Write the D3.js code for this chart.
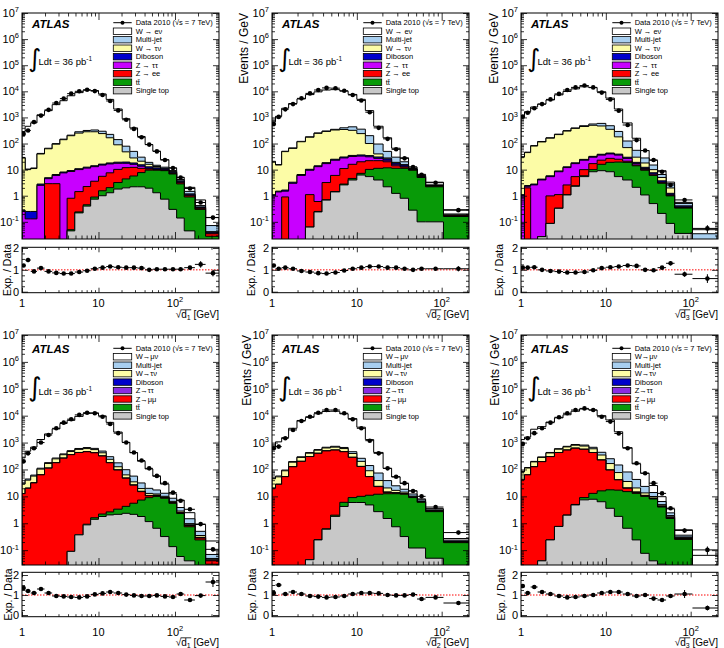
<!DOCTYPE html>
<html>
<head>
<meta charset="utf-8">
<script src="https://cdn.jsdelivr.net/npm/d3@7/dist/d3.min.js"></script>
<style>
html,body{margin:0;padding:0;background:#fff;}
svg{display:block;font-family:"Liberation Sans",Arial,Helvetica,sans-serif;}
</style>
</head>
<body>
<svg id="chart" width="724" height="648"></svg>
<script>
// ================= DATA =================
// bin edges of sqrt(d_k) [GeV]
const edgesD1  = [1, 1.1, 1.3, 1.57, 1.97, 2.48, 3.13, 3.89, 4.9, 6.3, 7.9, 10, 12.6, 15.8, 20.4, 25.7, 32.4, 40.7, 51.3, 64.6, 83.2, 105, 132, 182, 251, 376];
const edgesD23 = [1, 1.1, 1.3, 1.57, 1.97, 2.48, 3.13, 3.89, 4.9, 6.3, 7.9, 10, 12.6, 15.8, 20.4, 25.7, 32.4, 40.7, 51.3, 64.6, 105, 210];

const yTickLabels = [0.1, 1, 10, 100, 1e3, 1e4, 1e5, 1e6, 1e7];
const xTickLabels = [1, 10, 100];
const ratioTickLabels = [0, 1, 2];

// ---- W -> e nu, sqrt(d1)
const e1_data = [234, 316, 661, 1175, 1950, 3550, 5250, 8130, 10000, 11500, 10200, 7240, 4270, 1860, 813, 363, 174, 91, 50, 23.4, 11.5, 5.0, 1.9, 0.55, 0.145];
const e1_ratio = [1.2, 1.45, 0.93, 1.08, 0.93, 0.86, 0.83, 0.83, 0.9, 0.96, 1.05, 1.1, 1.15, 1.12, 1.1, 1.1, 1.08, 1.0, 1.03, 1.03, 1.03, 1.03, 1.1, 1.25, 0.85];
const e1_ratioErr = [0.06, 0.1, 0.04, 0.03, 0.02, 0.02, 0.02, 0.01, 0.01, 0.01, 0.01, 0.01, 0.02, 0.02, 0.03, 0.03, 0.04, 0.04, 0.05, 0.06, 0.06, 0.07, 0.08, 0.15, 0.15];
const e1_Wlnu = [253, 447, 605, 1217, 1754, 2991, 4218, 6551, 8628, 10644, 10390, 7645, 4676, 1949, 812, 348, 156, 72, 36.3, 11.6, 2.5, 0.9, 0.63, 0.27, 0.075];
const e1_Multijet = [1.4, 0.5, 0.55, 2, 3, 4.7, 7, 10, 31, 34, 48, 55, 58, 52, 31, 22, 9, 3, 1.5, 1.2, 0.8, 0.5, 0.3, 0.05, 0.03];
const e1_Wtaunu = [27.7, 9.75, 10.75, 37, 58, 88, 132, 190, 240, 270, 268, 224, 148, 70, 28.5, 10, 5.7, 3.2, 1.5, 0.5, 0.4, 0.1, 0.02, 0.01, 0.002];
const e1_Diboson = [0.03, 0.12, 0.12, 0.3, 0.4, 0.5, 0.6, 0.7, 0.8, 1.0, 1.1, 1.3, 1.5, 1.8, 2.0, 2.0, 1.8, 1.5, 1.2, 0.9, 0.6, 0.3, 0.1, 0.02, 0.003];
const e1_Ztautau = [0.25, 0.13, 0.13, 2.5, 1.6, 3.1, 7.5, 7.7, 8.6, 9.2, 9.4, 9.4, 9.0, 7.3, 5.6, 3.8, 2.3, 0.75, 0.5, 0.26, 0.2, 0.16, 0.05, 0.01, 0.002];
const e1_Zll = [0, 0, 0, 0, 2.9, 2.9, 0, 0.75, 1.2, 1.8, 2.7, 4.0, 5.5, 7.0, 7.5, 6.5, 3.5, 1.0, 0.5, 0.4, 0.4, 0.3, 0.1, 0.03, 0.007];
const e1_ttbar = [0, 0, 0, 0, 0, 0, 0, 0.005, 0.02, 0.05, 0.15, 0.55, 0.74, 1.4, 2.4, 3.5, 5.5, 7.6, 8.2, 8.4, 6.5, 2.7, 0.85, 0.3, 0.028];
const e1_SingleTop = [0, 0, 0, 0, 0, 0, 0, 0.045, 0.22, 0.4, 0.74, 1.0, 1.3, 1.8, 2.0, 2.2, 2.2, 1.95, 1.3, 0.74, 0.3, 0.14, 0.045, 0, 0];

// ---- W -> e nu, sqrt(d2)
const e2_data = [562, 1047, 2040, 3240, 5370, 8320, 11220, 13490, 13180, 10470, 7240, 4470, 1585, 398, 151, 60, 27, 12.6, 6.3, 3.16, 0.28];
const e2_ratio = [1.2, 1.05, 1.1, 1.05, 0.95, 0.9, 0.85, 0.83, 0.88, 0.97, 1.05, 1.1, 1.15, 1.15, 1.1, 1.1, 1.05, 1.0, 1.05, 1.05, 1.05];
const e2_ratioErr = [0.04, 0.03, 0.02, 0.02, 0.01, 0.01, 0.01, 0.01, 0.01, 0.01, 0.01, 0.02, 0.02, 0.03, 0.03, 0.04, 0.05, 0.05, 0.06, 0.07, 0.12];
const e2_Wlnu = [653, 1084, 2193, 3332, 4979, 7309, 9285, 10898, 11250, 9760, 7164, 4565, 1623, 363, 116, 36, 8.4, 1.6, 0.7, 0.7, 0.09];
const e2_Multijet = [0.8, 0.6, 1.6, 3, 4, 7, 10, 12, 20, 55, 116, 115, 100, 55.5, 22, 11, 4.5, 0.4, 0.3, 0.1, 0.015];
const e2_Wtaunu = [18.9, 13.5, 47.3, 61.7, 110.5, 163.7, 231, 271.5, 305, 314.5, 285, 203.5, 65.5, 9.5, 2, 1, 0.5, 0.2, 0.1, 0.05, 0.005];
const e2_Diboson = [0.1, 0.1, 0.15, 0.3, 0.5, 0.8, 1.0, 1.5, 2, 2.5, 3, 3.5, 3.5, 3.5, 3, 2, 1.5, 0.4, 0.2, 0.1, 0.005];
const e2_Ztautau = [1.0, 1.4, 0.6, 3, 6, 8.4, 12.4, 13.8, 17, 17, 16, 13, 9, 5, 3, 2, 1, 0.2, 0.1, 0.05, 0.005];
const e2_Zll = [0, 0, 0.9, 0, 0, 1.04, 0.35, 2.5, 4.55, 8.2, 11.4, 12.8, 11.8, 10.8, 8.3, 2.8, 1.3, 0.3, 0.2, 0.1, 0.01];
const e2_ttbar = [0, 0, 0, 0, 0, 0, 0.01, 0.02, 0.05, 0.2, 0.6, 1.0, 4.8, 7.2, 9.5, 10, 10.4, 9.2, 4.9, 2.1, 0.16];
const e2_SingleTop = [0, 0, 0, 0, 0, 0.063, 0.24, 0.68, 1.4, 2.6, 4.0, 6.2, 5.4, 4.0, 2.2, 1.23, 0.8, 0.28, 0.1, 0.1, 0];

// ---- W -> e nu, sqrt(d3)
const e3_data = [1072, 1514, 2239, 3236, 4898, 7943, 11220, 14125, 16600, 14125, 8913, 4898, 1820, 513, 135, 53.7, 23.4, 8.3, 2.57, 0.69, 0.056];
const e3_ratio = [1.1, 1.1, 1.12, 1.0, 0.95, 0.92, 0.88, 0.88, 0.9, 0.98, 1.08, 1.12, 1.15, 1.2, 1.18, 1.0, 0.98, 1.1, 1.3, 0.8, 0.6];
const e3_ratioErr = [0.03, 0.03, 0.02, 0.02, 0.01, 0.01, 0.01, 0.01, 0.01, 0.01, 0.01, 0.02, 0.02, 0.03, 0.04, 0.05, 0.06, 0.07, 0.1, 0.12, 0.2];
const e3_Wlnu = [1148, 1618, 2425, 3116, 4487, 7079, 9562, 12035, 14460, 13280, 9036, 5006, 1803, 490, 104, 25.7, 7.9, 2.6, 0.44, 0.05, 0.015];
const e3_Multijet = [1.2, 1.8, 3.2, 4.6, 6.4, 8.8, 12, 15, 30, 60, 120, 130, 110, 55, 25, 10, 5, 1.5, 0.9, 0.1, 0.015];
const e3_Wtaunu = [28.9, 42.5, 77.2, 110.7, 154.2, 211, 287, 362, 425, 468, 431, 307, 141, 40, 11, 5.7, 2.4, 1.3, 0.75, 0.01, 0.005];
const e3_Diboson = [0.1, 0.15, 0.2, 0.3, 0.4, 0.6, 0.8, 1.2, 1.7, 2.2, 2.8, 3.2, 3.2, 2.8, 2.0, 1.3, 0.8, 0.4, 0.15, 0.04, 0.002];
const e3_Ztautau = [1.0, 0.3, 2.6, 4.0, 4.4, 7.2, 9.4, 11.6, 13, 13, 13, 13, 11, 6, 2, 1, 0.5, 0.2, 0.05, 0.01, 0.001];
const e3_Zll = [0, 2.0, 0, 0, 0.9, 0.77, 1.5, 3.0, 4.2, 7, 7, 8, 5.5, 2, 1, 0.5, 0.3, 0.1, 0.05, 0.01, 0.002];
const e3_ttbar = [0, 0, 0, 0, 0, 0.005, 0.02, 0.1, 0.4, 1.7, 6.9, 10.7, 14.1, 15, 11.9, 8.4, 5.5, 2.8, 0.9, 0.3, 0.01];
const e3_SingleTop = [0, 0, 0, 0.027, 0.087, 0.33, 1.07, 2.3, 5.4, 8.3, 9.1, 8.3, 5.4, 4.0, 2.1, 1.07, 0.5, 0.21, 0.087, 0.036, 0];

// ---- W -> mu nu, sqrt(d1)
const m1_data = [200, 398, 617, 1000, 1905, 3390, 5500, 7410, 10700, 12900, 12300, 9120, 4900, 2240, 1000, 427, 214, 110, 57.5, 30.9, 13.8, 6.9, 3.3, 0.93, 0.107];
const m1_ratio = [1.35, 1.2, 1.1, 1.3, 1.1, 0.95, 0.93, 0.9, 0.88, 0.93, 1.03, 1.08, 1.15, 1.1, 1.02, 0.98, 0.95, 0.95, 0.98, 0.93, 0.9, 1.05, 0.75, 0.97, 1.65];
const m1_ratioErr = [0.06, 0.05, 0.04, 0.03, 0.02, 0.02, 0.01, 0.01, 0.01, 0.01, 0.01, 0.01, 0.02, 0.02, 0.03, 0.03, 0.04, 0.04, 0.05, 0.05, 0.06, 0.07, 0.06, 0.08, 0.25];
const m1_Wlnu = [238, 434, 617, 1189, 1917, 2954, 4737, 6170, 8813, 11346, 12061, 9366, 5334, 2285, 922, 361, 171, 84.6, 39, 15.6, 3.9, 3.4, 1.0, 0.4, 0.15];
const m1_Multijet = [3, 4, 5, 8, 12, 18, 25, 35, 45, 55, 60, 65, 60, 50, 35, 22, 12, 7, 5, 3, 2, 1, 0.5, 0.15, 0.02];
const m1_Wtaunu = [16, 20, 25, 40, 55, 70, 90, 110, 130, 140, 130, 100, 60, 30, 15, 8, 4, 2, 1.2, 0.8, 0.5, 0.3, 0.1, 0.05, 0.005];
const m1_Diboson = [0.02, 0.02, 0.03, 0.05, 0.08, 0.1, 0.15, 0.2, 0.25, 0.3, 0.35, 0.4, 0.4, 0.4, 0.35, 0.3, 0.25, 0.2, 0.15, 0.12, 0.1, 0.05, 0.02, 0.01, 0.002];
const m1_Ztautau = [0.08, 0.1, 0.1, 0.15, 0.15, 0.2, 0.25, 0.3, 0.35, 0.4, 0.45, 0.4, 0.4, 0.4, 0.35, 0.3, 0.25, 0.2, 0.15, 0.1, 0.1, 0.05, 0.03, 0.01, 0.002];
const m1_Zll = [12.6, 20, 31.6, 63, 112, 178, 263, 355, 427, 456, 415, 314, 175, 92, 43, 20.5, 7.7, 1.5, 0.8, 0.5, 0.3, 0.15, 0.08, 0.04, 0.01];
const m1_ttbar = [0, 0, 0, 0, 0, 0, 0, 0, 0, 0.05, 0.2, 0.42, 0.6, 1.2, 1.9, 3.4, 5.5, 7.8, 9.3, 8.2, 5.37, 2.24, 0.7, 0.24, 0.03];
const m1_SingleTop = [0, 0, 0, 0, 0, 0, 0, 0.09, 0.37, 0.87, 1.4, 1.78, 2.04, 2.14, 2.34, 2.14, 1.78, 1.15, 0.65, 0.32, 0.135, 0.058, 0.04, 0, 0];

// ---- W -> mu nu, sqrt(d2)
const m2_data = [617, 708, 1445, 2951, 6310, 9120, 12880, 16220, 16220, 12300, 7410, 3390, 1175, 398, 110, 53.7, 30.9, 15.8, 10, 4, 0.45];
const m2_ratio = [1.1, 1.5, 1.05, 1.15, 1.05, 0.95, 0.92, 0.88, 0.9, 0.95, 1.05, 1.1, 1.1, 1.08, 1.0, 0.98, 0.98, 1.02, 0.8, 0.88, 0.6];
const m2_ratioErr = [0.04, 0.06, 0.03, 0.02, 0.01, 0.01, 0.01, 0.01, 0.01, 0.01, 0.01, 0.02, 0.02, 0.03, 0.04, 0.05, 0.05, 0.06, 0.06, 0.07, 0.1];
const m2_Wlnu = [631, 1005, 1422, 3198, 6331, 8239, 11300, 13600, 13874, 11032, 7322, 3469, 1153, 356, 71.5, 27.9, 11.9, 3.9, 0.6, 0.35, 0.035];
const m2_Multijet = [3, 4, 6, 10, 15, 22, 30, 40, 50, 60, 65, 60, 50, 35, 18, 8, 4, 2, 0.8, 0.2, 0.02];
const m2_Wtaunu = [25, 25, 35, 60, 80, 100, 120, 140, 150, 140, 110, 70, 35, 15, 6, 3, 1.5, 0.7, 0.3, 0.1, 0.01];
const m2_Diboson = [0.02, 0.03, 0.05, 0.08, 0.1, 0.15, 0.2, 0.25, 0.3, 0.35, 0.4, 0.4, 0.4, 0.35, 0.3, 0.25, 0.2, 0.12, 0.08, 0.03, 0.003];
const m2_Ztautau = [0.1, 0.1, 0.15, 0.2, 0.25, 0.3, 0.35, 0.4, 0.45, 0.45, 0.45, 0.4, 0.35, 0.3, 0.25, 0.2, 0.15, 0.1, 0.05, 0.02, 0.002];
const m2_Zll = [20, 28, 54, 126, 200, 302, 398, 489, 523, 451, 273, 119, 43, 11, 1.5, 0.7, 0.5, 0.3, 0.2, 0.1, 0.01];
const m2_ttbar = [0, 0, 0, 0, 0, 0, 0.005, 0.02, 0.2, 1.8, 3.1, 4.1, 6.2, 9.3, 11, 11.8, 11.7, 8.9, 5.9, 2.65, 0.19];
const m2_SingleTop = [0, 0, 0, 0, 0, 0.044, 0.24, 0.6, 1.8, 4.2, 5.9, 5.9, 4.8, 2.7, 1.5, 0.74, 0.32, 0.12, 0.12, 0.05, 0];

// ---- W -> mu nu, sqrt(d3)
const m3_data = [891, 1445, 2239, 3388, 5495, 8710, 12300, 16220, 18620, 16220, 9120, 6026, 2188, 617, 170, 72.4, 30.9, 12.9, 3.63, 0.54, 0.102];
const m3_ratio = [1.45, 1.1, 1.4, 1.15, 1.05, 0.95, 0.88, 0.9, 0.95, 1.0, 1.1, 1.15, 1.15, 1.05, 0.95, 1.0, 0.82, 0.75, 0.95, 1.05, 0.35];
const m3_ratioErr = [0.05, 0.04, 0.04, 0.02, 0.02, 0.01, 0.01, 0.01, 0.01, 0.01, 0.01, 0.02, 0.02, 0.03, 0.04, 0.04, 0.05, 0.06, 0.1, 0.2, 0.12];
const m3_Wlnu = [1207, 1472, 2936, 3604, 5341, 7683, 10098, 13752, 16882, 15552, 9595, 6679, 2369, 567, 119, 48.9, 11.4, 3.3, 1.0, 0.21, 0.045];
const m3_Multijet = [4, 5, 8, 12, 18, 25, 35, 50, 65, 80, 90, 85, 70, 45, 22, 10, 4, 1.5, 0.5, 0.05, 0.005];
const m3_Wtaunu = [40, 50, 65, 85, 110, 140, 165, 180, 180, 160, 120, 70, 35, 15, 6, 2.5, 1.2, 0.5, 0.2, 0.02, 0.003];
const m3_Diboson = [0.02, 0.03, 0.05, 0.08, 0.1, 0.15, 0.2, 0.25, 0.3, 0.35, 0.4, 0.4, 0.4, 0.35, 0.3, 0.25, 0.2, 0.12, 0.08, 0.01, 0.002];
const m3_Ztautau = [0.1, 0.1, 0.15, 0.2, 0.25, 0.3, 0.35, 0.4, 0.45, 0.45, 0.45, 0.4, 0.35, 0.3, 0.25, 0.2, 0.15, 0.1, 0.05, 0.01, 0.002];
const m3_Zll = [41, 63, 126, 195, 300, 426, 523, 612, 553, 414, 208, 77.5, 24, 5, 1.1, 0.5, 0.3, 0.2, 0.1, 0.02, 0.002];
const m3_ttbar = [0, 0, 0, 0, 0, 0, 0.02, 0.2, 1.6, 5.1, 9.7, 13.9, 15.2, 14.35, 12.66, 9.9, 7.96, 3.97, 1.5, 0.25, 0.005];
const m3_SingleTop = [0, 0, 0, 0.04, 0.24, 0.76, 2.0, 4.8, 7.4, 7.8, 6.3, 3.6, 1.8, 0.65, 0.24, 0.076, 0.04, 0.03, 0, 0, 0];

// stacking order, bottom to top
const processKeys = ["SingleTop", "ttbar", "Zll", "Ztautau", "Diboson", "Wtaunu", "Multijet", "Wlnu"];
const legendE = ["Data 2010 (√s = 7 TeV)", "W → eν", "Multi-jet", "W → τν", "Diboson", "Z → ττ", "Z → ee", "tt̄", "Single top"];
const legendM = ["Data 2010 (√s = 7 TeV)", "W→μν", "Multi-jet", "W→τν", "Diboson", "Z→ττ", "Z→μμ", "tt̄", "Single top"];

const colorsE = {Wlnu:"#ffffff", Multijet:"#a8cff0", Wtaunu:"#fcfca6", Diboson:"#0000cc", Ztautau:"#c800ff", Zll:"#ff0000", ttbar:"#089a08", SingleTop:"#c8c8c8"};
const colorsM = {Wlnu:"#ffffff", Multijet:"#a8cff0", Wtaunu:"#fcfca6", Diboson:"#0000cc", Ztautau:"#8a2be2", Zll:"#ff0000", ttbar:"#089a08", SingleTop:"#c8c8c8"};

// ================= LAYOUT =================
const rows = {
  top: {T:13, B:239, rT:247.3, rB:292.7, r0:291.7, r2:248, yMin:0.022, xlabY:307, titleY:318, atlasY:28.3, legY0:22.7, legDy:8.5, intY:65, intBase:67, intSize:25},
  bot: {T:335, B:565, rT:572.3, rB:616.7, r0:615, r2:575, yMin:0.028, xlabY:636, titleY:646, atlasY:353, legY0:348.3, legDy:8.45, intY:395, intBase:396, intSize:26}
};

const panels = [
  {row:"top", L:22,  R:219, edges:edgesD1,  sub:"1", legend:legendE, colors:colorsE, evX:null, expX:7,
   data:e1_data, ratio:e1_ratio, rerr:e1_ratioErr, layers:[e1_SingleTop, e1_ttbar, e1_Zll, e1_Ztautau, e1_Diboson, e1_Wtaunu, e1_Multijet, e1_Wlnu]},
  {row:"top", L:272, R:469, edges:edgesD23, sub:"2", legend:legendE, colors:colorsE, evX:244, expX:251,
   data:e2_data, ratio:e2_ratio, rerr:e2_ratioErr, layers:[e2_SingleTop, e2_ttbar, e2_Zll, e2_Ztautau, e2_Diboson, e2_Wtaunu, e2_Multijet, e2_Wlnu]},
  {row:"top", L:521, R:718, edges:edgesD23, sub:"3", legend:legendE, colors:colorsE, evX:494, expX:499,
   data:e3_data, ratio:e3_ratio, rerr:e3_ratioErr, layers:[e3_SingleTop, e3_ttbar, e3_Zll, e3_Ztautau, e3_Diboson, e3_Wtaunu, e3_Multijet, e3_Wlnu]},
  {row:"bot", L:22,  R:219, edges:edgesD1,  sub:"1", legend:legendM, colors:colorsM, evX:null, expX:7.5,
   data:m1_data, ratio:m1_ratio, rerr:m1_ratioErr, layers:[m1_SingleTop, m1_ttbar, m1_Zll, m1_Ztautau, m1_Diboson, m1_Wtaunu, m1_Multijet, m1_Wlnu]},
  {row:"bot", L:272, R:469, edges:edgesD23, sub:"2", legend:legendM, colors:colorsM, evX:247, expX:252,
   data:m2_data, ratio:m2_ratio, rerr:m2_ratioErr, layers:[m2_SingleTop, m2_ttbar, m2_Zll, m2_Ztautau, m2_Diboson, m2_Wtaunu, m2_Multijet, m2_Wlnu]},
  {row:"bot", L:521, R:718, edges:edgesD23, sub:"3", legend:legendM, colors:colorsM, evX:495, expX:501,
   data:m3_data, ratio:m3_ratio, rerr:m3_ratioErr, layers:[m3_SingleTop, m3_ttbar, m3_Zll, m3_Ztautau, m3_Diboson, m3_Wtaunu, m3_Multijet, m3_Wlnu]}
];

// ================= DRAW =================
const svg = d3.select("#chart");
const defs = svg.append("defs");

function logTicks(min, max) {
  const major = [], minor = [];
  for (let d = Math.floor(Math.log10(min)) - 1; d <= Math.ceil(Math.log10(max)); d++) {
    for (let k = 1; k <= 9; k++) {
      const v = k * Math.pow(10, d);
      if (v < min * 0.9999 || v > max * 1.0001) continue;
      (k === 1 ? major : minor).push(v);
    }
  }
  return {major, minor};
}

function ticks(g, axisFn, scale, values, size, tx, ty) {
  g.append("g").attr("transform", `translate(${tx},${ty})`)
    .call(axisFn(scale).tickValues(values).tickSize(size).tickFormat(""))
    .call(s => { s.select(".domain").remove(); s.selectAll("text").remove(); s.selectAll("line").attr("stroke", "#000").attr("stroke-width", 0.8); });
}

function powLabel(sel, v, x, y, anchor, size) {
  const e = Math.round(Math.log10(v));
  const t = sel.append("text").attr("x", x).attr("y", y).attr("text-anchor", anchor).attr("font-size", size).attr("fill", "#000");
  if (e === 0) t.text("1");
  else if (e === 1) t.text("10");
  else {
    t.append("tspan").text("10");
    t.append("tspan").attr("font-size", size * 0.68).attr("dy", -size * 0.42).text(e < 0 ? "-" + (-e) : String(e));
  }
  return t;
}

panels.forEach((p, pi) => {
  const r = rows[p.row];
  const g = svg.append("g");
  const n = p.edges.length - 1;
  const x = d3.scaleLog().domain([p.edges[0], p.edges[n]]).range([p.L, p.R]);
  const y = d3.scaleLog().domain([r.yMin, 1e7]).range([r.B, r.T]);
  const yr = d3.scaleLinear().domain([0, 2]).range([r.r0, r.r2]);

  // ---- stacked histograms
  const table = d3.range(n).map(i => { const o = {}; processKeys.forEach((k, j) => o[k] = p.layers[j][i]); return o; });
  const stacked = d3.stack().keys(processKeys)(table);
  const clipId = "clipMain" + pi;
  defs.append("clipPath").attr("id", clipId).append("rect")
    .attr("x", p.L).attr("y", r.T).attr("width", p.R - p.L).attr("height", r.B - r.T);
  const gm = g.append("g").attr("clip-path", `url(#${clipId})`);
  const yv = v => v > r.yMin ? y(v) : r.B + 4;
  const area = d3.area().curve(d3.curveStepAfter).x(d => x(d.e)).y0(r.B + 4).y1(d => yv(d.v));
  for (let j = processKeys.length - 1; j >= 0; j--) {
    const s = stacked[j];
    const pts = d3.range(n).map(i => ({e: p.edges[i], v: s[i][1]}));
    pts.push({e: p.edges[n], v: s[n - 1][1]});
    gm.append("path").attr("d", area(pts))
      .attr("fill", p.colors[processKeys[j]]).attr("stroke", "#000").attr("stroke-width", 1).attr("stroke-linejoin", "miter");
  }

  // ---- data points
  const centers = d3.range(n).map(i => (p.edges[i] + p.edges[i + 1]) / 2);
  p.data.forEach((v, i) => {
    const err = v * p.rerr[i] / p.ratio[i];
    const cx = x(centers[i]), cy = y(v);
    gm.append("line").attr("x1", x(p.edges[i])).attr("x2", x(p.edges[i + 1])).attr("y1", cy).attr("y2", cy).attr("stroke", "#000").attr("stroke-width", 1);
    gm.append("line").attr("x1", cx).attr("x2", cx).attr("y1", yv(Math.max(v - err, r.yMin * 0.5))).attr("y2", y(v + err)).attr("stroke", "#000").attr("stroke-width", 1);
    gm.append("circle").attr("cx", cx).attr("cy", cy).attr("r", 2.3).attr("fill", "#000");
  });

  // ---- main frame & ticks
  const lt = logTicks(r.yMin, 1e7);
  const xt = logTicks(p.edges[0], p.edges[n]);
  ticks(g, d3.axisLeft, y, lt.major, -6, p.L, 0);
  ticks(g, d3.axisLeft, y, lt.minor, -3, p.L, 0);
  ticks(g, d3.axisRight, y, lt.major, -6, p.R, 0);
  ticks(g, d3.axisRight, y, lt.minor, -3, p.R, 0);
  ticks(g, d3.axisBottom, x, xt.major, -7, 0, r.B);
  ticks(g, d3.axisBottom, x, xt.minor, -3.5, 0, r.B);
  ticks(g, d3.axisTop, x, xt.major, -7, 0, r.T);
  ticks(g, d3.axisTop, x, xt.minor, -3.5, 0, r.T);
  g.append("rect").attr("x", p.L).attr("y", r.T).attr("width", p.R - p.L).attr("height", r.B - r.T)
    .attr("fill", "none").attr("stroke", "#000").attr("stroke-width", 1);

  // y labels
  yTickLabels.forEach(v => powLabel(g, v, p.L - 3, y(v) + 4, "end", 11));

  // ---- ratio panel
  const clipR = "clipRatio" + pi;
  defs.append("clipPath").attr("id", clipR).append("rect")
    .attr("x", p.L).attr("y", r.rT).attr("width", p.R - p.L).attr("height", r.rB - r.rT);
  const gr = g.append("g").attr("clip-path", `url(#${clipR})`);
  gr.append("line").attr("x1", p.L).attr("x2", p.R).attr("y1", yr(1)).attr("y2", yr(1))
    .attr("stroke", "#ff0000").attr("stroke-width", 1).attr("stroke-dasharray", "1.5,1.5");
  p.ratio.forEach((v, i) => {
    const cx = x(centers[i]), cy = yr(v);
    gr.append("line").attr("x1", x(p.edges[i])).attr("x2", x(p.edges[i + 1])).attr("y1", cy).attr("y2", cy).attr("stroke", "#000").attr("stroke-width", 1);
    gr.append("line").attr("x1", cx).attr("x2", cx).attr("y1", yr(v - p.rerr[i])).attr("y2", yr(v + p.rerr[i])).attr("stroke", "#000").attr("stroke-width", 1);
    gr.append("circle").attr("cx", cx).attr("cy", cy).attr("r", 2.3).attr("fill", "#000");
  });
  const rMinor = d3.range(0, 2.01, 0.25).filter(v => Math.abs(v - Math.round(v)) > 1e-6);
  ticks(g, d3.axisLeft, yr, ratioTickLabels, -6, p.L, 0);
  ticks(g, d3.axisLeft, yr, rMinor, -3, p.L, 0);
  ticks(g, d3.axisRight, yr, ratioTickLabels, -6, p.R, 0);
  ticks(g, d3.axisRight, yr, rMinor, -3, p.R, 0);
  ticks(g, d3.axisBottom, x, xt.major, -5, 0, r.rB);
  ticks(g, d3.axisBottom, x, xt.minor, -2.5, 0, r.rB);
  ticks(g, d3.axisTop, x, xt.major, -5, 0, r.rT);
  ticks(g, d3.axisTop, x, xt.minor, -2.5, 0, r.rT);
  g.append("rect").attr("x", p.L).attr("y", r.rT).attr("width", p.R - p.L).attr("height", r.rB - r.rT)
    .attr("fill", "none").attr("stroke", "#000").attr("stroke-width", 1);
  ratioTickLabels.forEach(v => g.append("text").attr("x", p.L - 3).attr("y", yr(v) + 4)
    .attr("text-anchor", "end").attr("font-size", 11).text(v));

  // x labels
  xTickLabels.forEach(v => powLabel(g, v, x(v), r.xlabY, "middle", 11));

  // x title  sqrt(d_k) [GeV]
  const tt = g.append("text").attr("x", p.R).attr("y", r.titleY).attr("text-anchor", "end").attr("font-size", 10);
  tt.append("tspan").text("√");
  tt.append("tspan").text("d");
  tt.append("tspan").attr("font-size", 7).attr("dy", 2).text(p.sub);
  tt.append("tspan").attr("dy", -2).text(" [GeV]");
  try {
    const node = tt.node();
    const e0 = node.getExtentOfChar(0), e2 = node.getExtentOfChar(2);
    g.append("line").attr("x1", e0.x + e0.width - 0.6).attr("x2", e2.x + e2.width + 0.6)
      .attr("y1", e0.y + 0.8).attr("y2", e0.y + 0.8).attr("stroke", "#000").attr("stroke-width", 0.8);
  } catch (err) {}

  // y titles
  if (p.evX !== null) {
    g.append("text").attr("transform", `translate(${p.evX},${r.T}) rotate(-90)`)
      .attr("text-anchor", "end").attr("dominant-baseline", "central").attr("font-size", 12).text("Events / GeV");
  }
  g.append("text").attr("transform", `translate(${p.expX},${(r.rT + r.rB) / 2}) rotate(-90)`)
    .attr("text-anchor", "middle").attr("dominant-baseline", "central").attr("font-size", 10.5).text("Exp. / Data");

  // ATLAS label
  g.append("text").attr("x", p.L + 10).attr("y", r.atlasY).attr("font-size", 11.5)
    .attr("font-weight", "bold").attr("font-style", "italic").text("ATLAS");

  // integrated luminosity
  g.append("text").attr("x", p.L + 6).attr("y", r.intBase).attr("font-size", r.intSize)
    .attr("font-family", "DejaVu Sans").attr("font-weight", "normal").text("∫");
  const lum = g.append("text").attr("x", p.L + 16.5).attr("y", r.intY).attr("font-size", 9.5);
  lum.append("tspan").text("Ldt = 36 pb");
  lum.append("tspan").attr("font-size", 6.5).attr("dy", -4).text("-1");

  // legend
  const lx0 = p.L + 91.3, lw = 18.4, tx = p.L + 113.7;
  p.legend.forEach((lab, i) => {
    const cy = r.legY0 + i * r.legDy;
    if (i === 0) {
      g.append("line").attr("x1", lx0).attr("x2", lx0 + lw).attr("y1", cy).attr("y2", cy).attr("stroke", "#000").attr("stroke-width", 1);
      g.append("circle").attr("cx", lx0 + lw / 2).attr("cy", cy).attr("r", 2).attr("fill", "#000");
    } else {
      const key = processKeys[processKeys.length - i];
      g.append("rect").attr("x", lx0).attr("y", cy - 3.2).attr("width", lw).attr("height", 6.4)
        .attr("fill", p.colors[key]).attr("stroke", "#000").attr("stroke-width", 0.8);
    }
    g.append("text").attr("x", tx).attr("y", cy + 2.6).attr("font-size", 7.5).attr("fill", "#000").text(lab);
  });
});
</script>
</body>
</html>
